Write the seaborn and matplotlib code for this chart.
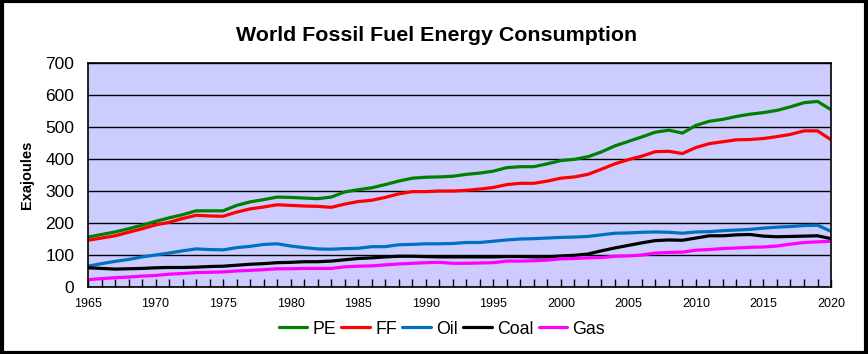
import pandas as pd
import matplotlib.pyplot as plt
import seaborn as sns
from matplotlib.patches import Rectangle

# data (exajoules)
years = list(range(1965, 2021))

pe = [156, 164, 172, 182, 193, 205, 216, 226, 238, 238,
      238, 255, 266, 273, 281, 280, 278, 276, 281, 297,
      304, 310, 320, 331, 340, 343, 344, 346, 352, 356,
      362, 373, 376, 376, 385, 395, 399, 407, 422, 441,
      455, 469, 484, 490, 481, 505, 518, 524, 533, 540,
      545, 552, 563, 576, 580, 554]

ff = [146, 153, 160, 171, 182, 194, 202, 214, 224, 222,
      221, 234, 244, 250, 257, 255, 253, 252, 249, 259,
      267, 271, 280, 291, 298, 298, 300, 300, 302, 306,
      311, 320, 324, 324, 331, 340, 344, 352, 368, 385,
      398, 409, 423, 424, 417, 436, 448, 454, 460, 461,
      464, 470, 477, 488, 488, 460]

oil = [65, 73, 80, 86, 94, 100, 106, 113, 119, 117,
       116, 123, 127, 133, 135, 128, 123, 119, 118, 120,
       121, 126, 126, 132, 133, 135, 135, 136, 139, 139,
       143, 147, 150, 151, 153, 155, 156, 158, 163, 168,
       169, 171, 172, 171, 168, 172, 173, 176, 178, 180,
       184, 187, 189, 192, 193, 174]

coal = [60, 58, 56, 57, 58, 60, 61, 61, 62, 64,
        65, 68, 71, 73, 76, 77, 79, 79, 81, 85,
        89, 91, 94, 96, 96, 95, 94, 94, 94, 94,
        94, 95, 95, 94, 94, 97, 99, 103, 113, 122,
        130, 138, 145, 147, 146, 153, 160, 160, 163, 164,
        159, 157, 158, 159, 160, 151]

gas = [23, 26, 29, 31, 34, 36, 40, 42, 45, 46,
       47, 50, 52, 54, 57, 57, 58, 58, 58, 63,
       65, 66, 69, 72, 74, 76, 77, 74, 74, 75,
       76, 81, 81, 82, 84, 88, 89, 91, 92, 96,
       97, 100, 106, 108, 109, 115, 117, 120, 122, 124,
       125, 128, 134, 139, 141, 143]

series = {'PE': pe, 'FF': ff, 'Oil': oil, 'Coal': coal, 'Gas': gas}
colors = ['#008000', '#ff0000', '#0070c0', '#000000', '#ff00ff']

df = pd.DataFrame({'Year': years, **series}).melt(id_vars='Year', var_name='Fuel', value_name='EJ')

sns.set_style('white')
plt.rcParams['font.family'] = ['Liberation Sans', 'DejaVu Sans']
plt.rcParams['text.color'] = 'black'
plt.rcParams['axes.labelcolor'] = 'black'
plt.rcParams['xtick.color'] = 'black'
plt.rcParams['ytick.color'] = 'black'

fig = plt.figure(figsize=(8.68, 3.54), dpi=100)
ax = fig.add_axes([0.1014, 0.1893, 0.8560, 0.6327])

sns.lineplot(data=df, x='Year', y='EJ', hue='Fuel', palette=colors,
             linewidth=2.3, ax=ax, legend=False)

ax.set_facecolor('#ccccff')
ax.set_xlim(1965, 2020)
ax.set_ylim(0, 700)
ax.set_yticks(range(0, 701, 100))
ax.set_xticks(range(1965, 2021, 5))
ax.set_xticks(range(1965, 2021), minor=True)
ax.grid(axis='y', color='black', linewidth=1)
ax.grid(axis='x', visible=False)
ax.set_axisbelow(True)
ax.tick_params(axis='x', which='both', direction='in', length=6, width=1,
               labelsize=9, pad=8, bottom=True, color='black')
ax.tick_params(axis='y', length=0, labelsize=12.5, pad=10)
for s in ax.spines.values():
    s.set_color('black')
    s.set_linewidth(1.2)

ax.set_xlabel('')
ax.set_ylabel('Exajoules', fontsize=10.5, fontweight='bold', labelpad=8)

fig.text(0.503, 0.90, 'World Fossil Fuel Energy Consumption',
         ha='center', va='center', fontsize=15.4, fontweight='bold')

handles = [plt.Line2D([], [], color=c, linewidth=2.3) for c in colors]
fig.legend(handles, list(series.keys()), loc='center', ncol=5,
           bbox_to_anchor=(0.509, 0.07), frameon=False, fontsize=12.8,
           handlelength=1.6, handletextpad=0.3, columnspacing=0.3)

fig.patches.append(Rectangle((0.002, 0.004), 0.996, 0.992, transform=fig.transFigure,
                             fill=False, edgecolor='black', linewidth=3))

fig.savefig('out.png', dpi=100)
